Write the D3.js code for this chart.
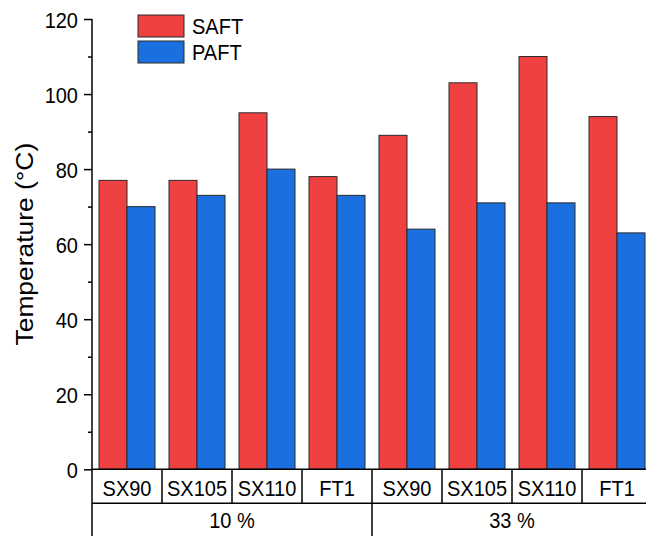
<!DOCTYPE html>
<html>
<head>
<meta charset="utf-8">
<script src="https://cdn.jsdelivr.net/npm/d3@7"></script>
<style>
  body { margin: 0; background: #fff; }
  svg { display: block; font-family: "Liberation Sans", Arial, sans-serif; }
</style>
</head>
<body>
<svg id="chart" width="646" height="536"></svg>
<script>
// values
const groups = ["10 %", "33 %"];
const samples = ["SX90", "SX105", "SX110", "FT1"];
const series = ["SAFT", "PAFT"];
const saft = [77, 77, 95, 78, 89, 103, 110, 94];
const paft = [70, 73, 80, 73, 64, 71, 71, 63];
const yTicks = [0, 20, 40, 60, 80, 100, 120];
const colors = { SAFT: "#EF4142", PAFT: "#1B6FDE" };

// build rows for the bars
const rows = [];
groups.forEach((g, gi) => {
    samples.forEach((s, si) => {
        const i = gi * samples.length + si;
        rows.push({ key: g + "|" + s, group: g, sample: s, SAFT: saft[i], PAFT: paft[i] });
    });
});

const svg = d3.select("#chart");
const x0 = 92, x1 = 652;
const yTop = 19, yBase = 469.3;
const rowH = 34;
const stretch = 1.1;   // the text in the picture is a bit taller than wide

const x = d3.scaleBand().domain(rows.map(d => d.key)).range([x0, x1]);
const xs = d3.scaleBand().domain(series).range([0, x.bandwidth()]).paddingOuter(0.25);
const y = d3.scaleLinear().domain([0, 120]).range([yBase, yTop]);

function label(parent, tx, ty, str, size, anchor) {
    return parent.append("text")
        .attr("transform", "translate(" + tx + "," + ty + ") scale(1," + stretch + ")")
        .attr("text-anchor", anchor || "middle")
        .attr("font-size", size)
        .attr("fill", "#000")
        .text(str);
}

// bars
const cat = svg.append("g")
  .selectAll("g")
  .data(rows)
  .enter().append("g")
    .attr("transform", d => "translate(" + x(d.key) + ",0)");

cat.selectAll("rect")
  .data(d => series.map(s => ({ s: s, v: d[s] })))
  .enter().append("rect")
    .attr("x", d => xs(d.s))
    .attr("y", d => y(d.v))
    .attr("width", xs.bandwidth())
    .attr("height", d => y(0) - y(d.v))
    .attr("fill", d => colors[d.s])
    .attr("stroke", "#2a2a2a")
    .attr("stroke-width", 1);

// y axis with major and minor ticks
const yAxis = svg.append("g")
    .attr("transform", "translate(" + x0 + ",0)")
    .call(d3.axisLeft(y).tickValues(yTicks).tickSize(8).tickSizeOuter(0));
yAxis.select(".domain").remove();
yAxis.selectAll("line").attr("stroke", "#000").attr("stroke-width", 1.5);
yAxis.selectAll("text")
    .attr("x", null).attr("dy", null)
    .attr("transform", "translate(-14,8) scale(1," + stretch + ")")
    .attr("font-size", 20).attr("fill", "#000")
    .attr("font-family", "Liberation Sans, Arial, sans-serif");

svg.append("g")
    .attr("transform", "translate(" + x0 + ",0)")
    .call(d3.axisLeft(y).tickValues(d3.range(10, 120, 20)).tickSize(4).tickFormat(""))
    .call(g => g.select(".domain").remove())
    .selectAll("line").attr("stroke", "#000").attr("stroke-width", 1.5);

// left axis line, running through the label table
svg.append("line")
    .attr("x1", x0).attr("x2", x0)
    .attr("y1", y(120)).attr("y2", 536)
    .attr("stroke", "#000").attr("stroke-width", 1.5);

// label table under the bars
const tbl = svg.append("g").attr("stroke", "#000").attr("stroke-width", 1.5);
tbl.append("line").attr("x1", x0).attr("x2", x1).attr("y1", yBase).attr("y2", yBase);
tbl.append("line").attr("x1", x0).attr("x2", x1).attr("y1", yBase + rowH).attr("y2", yBase + rowH);

rows.forEach((d, i) => {
    const xr = x(d.key) + x.bandwidth();
    const groupEnd = (i + 1) % samples.length === 0;
    tbl.append("line")
        .attr("x1", xr).attr("x2", xr)
        .attr("y1", yBase).attr("y2", groupEnd ? 536 : yBase + rowH);
});

const catLabels = svg.append("g");
rows.forEach(d => {
    label(catLabels, x(d.key) + x.bandwidth() / 2, 496, d.sample, 20);
});

const groupLabels = svg.append("g");
groups.forEach(g => {
    const keys = rows.filter(r => r.group === g).map(r => r.key);
    const cx = (x(keys[0]) + x(keys[keys.length - 1]) + x.bandwidth()) / 2;
    label(groupLabels, cx, 528, g, 20);
});

// y title
svg.append("text")
    .attr("transform", "translate(33," + (yBase + yTop) / 2 + ") scale(1," + stretch + ") rotate(-90)")
    .attr("text-anchor", "middle")
    .attr("font-size", 24)
    .text("Temperature (°C)");

// legend
const legend = svg.append("g")
  .selectAll("g")
  .data(series)
  .enter().append("g")
    .attr("transform", (d, i) => "translate(138," + (15 + i * 26) + ")");

legend.append("rect")
    .attr("width", 46).attr("height", 22)
    .attr("fill", d => colors[d])
    .attr("stroke", "#2a2a2a").attr("stroke-width", 1);

legend.each(function(d) {
    label(d3.select(this), 54, 18.5, d, 20, "start");
});
</script>
</body>
</html>
